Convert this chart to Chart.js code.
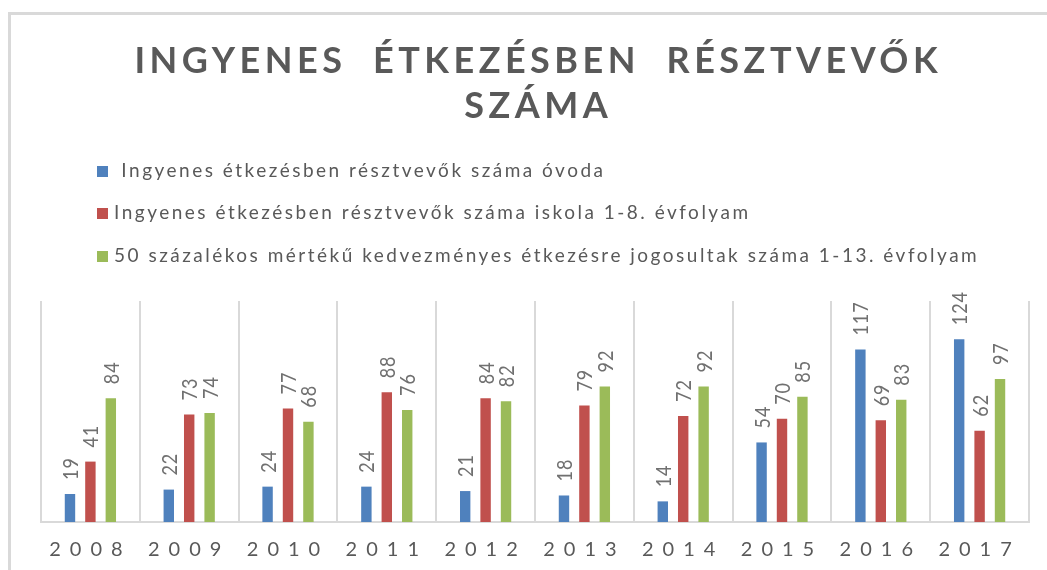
<!DOCTYPE html>
<html lang="hu">
<head>
<meta charset="utf-8">
<title>Ingyenes étkezésben résztvevők száma</title>
<script src="https://cdn.jsdelivr.net/npm/chart.js@4.4.1/dist/chart.umd.min.js"></script>
<style>
  html, body { margin: 0; padding: 0; background: #ffffff; }
  #wrap { width: 1047px; height: 570px; position: relative; }
</style>
</head>
<body>
<div id="wrap"><canvas id="chart"></canvas></div>
<script>
// Years on the category axis
const years = ['2008', '2009', '2010', '2011', '2012', '2013', '2014', '2015', '2016', '2017'];

// Series values (persons)
const ovoda = [19, 22, 24, 24, 21, 18, 14, 54, 117, 124];
const iskola = [41, 73, 77, 88, 84, 79, 72, 70, 69, 62];
const kedvezmenyes = [84, 74, 68, 76, 82, 92, 92, 85, 83, 97];

// Series names shown in the legend
const seriesNames = [
  ' Ingyenes étkezésben résztvevők száma óvoda',
  'Ingyenes étkezésben résztvevők száma iskola 1-8. évfolyam',
  '50 százalékos mértékű kedvezményes étkezésre jogosultak száma 1-13. évfolyam'
];

// Chart title, two lines
const titleLines = ['INGYENES  ÉTKEZÉSBEN  RÉSZTVEVŐK', 'SZÁMA'];

const COLORS = ['#4F81BD', '#C0504D', '#9BBB59'];
const TEXT = '#595959';
const GRID = '#d9d9d9';
const FONT = 'Lato, "Open Sans", sans-serif';

// White background and the thin frame around the chart
const framePlugin = {
  id: 'frame',
  beforeDraw(chart) {
    const ctx = chart.ctx;
    ctx.save();
    ctx.fillStyle = '#ffffff';
    ctx.fillRect(0, 0, chart.width, chart.height);
    ctx.strokeStyle = GRID;
    ctx.lineWidth = 3;
    ctx.strokeRect(9.5, 13.5, chart.width + 20, chart.height + 20);
    ctx.restore();
    // spaced-out year labels on the category axis
    ctx.letterSpacing = '9px';
  },
  beforeDatasetsDraw(chart) {
    chart.ctx.letterSpacing = '0px';
  }
};

// Rotated value labels above each bar
const valueLabels = {
  id: 'valueLabels',
  afterDatasetsDraw(chart) {
    const ctx = chart.ctx;
    ctx.save();
    ctx.font = '18px ' + FONT;
    ctx.fillStyle = '#707070';
    ctx.letterSpacing = '1px';
    ctx.textAlign = 'left';
    ctx.textBaseline = 'middle';
    chart.data.datasets.forEach((ds, di) => {
      const meta = chart.getDatasetMeta(di);
      meta.data.forEach((bar, i) => {
        ctx.save();
        ctx.translate(bar.x + 1, bar.y - 14);
        ctx.scale(1.2, 1);
        ctx.rotate(-Math.PI / 2);
        ctx.fillText(String(ds.data[i]), 0, 0);
        ctx.restore();
      });
    });
    ctx.restore();
  }
};

// Title and stacked legend above the plot
const headerPlugin = {
  id: 'header',
  afterDraw(chart) {
    const ctx = chart.ctx;
    const area = chart.chartArea;
    const cx = (area.left + area.right) / 2 + 1;
    ctx.save();

    // title
    ctx.fillStyle = TEXT;
    ctx.font = 'bold 36px ' + FONT;
    const spacing = 4.5;
    ctx.letterSpacing = spacing + 'px';
    ctx.textAlign = 'left';
    ctx.textBaseline = 'alphabetic';
    const baselines = [73, 118];
    titleLines.forEach((line, k) => {
      const w = ctx.measureText(line).width - spacing;
      ctx.fillText(line, cx - w / 2, baselines[k]);
    });

    // legend
    ctx.font = '19px ' + FONT;
    ctx.letterSpacing = '2.5px';
    ctx.textBaseline = 'middle';
    const rows = [171, 213, 256];
    chart.data.datasets.forEach((ds, di) => {
      ctx.fillStyle = ds.backgroundColor;
      ctx.fillRect(97, rows[di] - 5, 11, 11);
      ctx.fillStyle = TEXT;
      ctx.fillText(ds.label, 114, rows[di]);
    });
    ctx.restore();
  }
};

new Chart(document.getElementById('chart'), {
  type: 'bar',
  data: {
    labels: years,
    datasets: [
      { label: seriesNames[0], data: ovoda, backgroundColor: COLORS[0] },
      { label: seriesNames[1], data: iskola, backgroundColor: COLORS[1] },
      { label: seriesNames[2], data: kedvezmenyes, backgroundColor: COLORS[2] }
    ]
  },
  options: {
    responsive: true,
    maintainAspectRatio: false,
    animation: false,
    layout: { padding: { top: 301, left: 41, right: 18, bottom: 0 } },
    datasets: {
      bar: { categoryPercentage: 0.62, barPercentage: 0.51 }
    },
    plugins: {
      legend: { display: false },
      title: { display: false },
      tooltip: { enabled: false }
    },
    scales: {
      x: {
        grid: { display: true, offset: true, color: GRID, lineWidth: 2, drawTicks: false },
        border: { display: true, color: GRID, width: 2 },
        ticks: {
          color: TEXT,
          padding: 16,
          font: { family: FONT, size: 20 },
          maxRotation: 0
        },
        afterFit(scale) { scale.height = 48; }
      },
      y: {
        display: false,
        min: 0,
        max: 150
      }
    }
  },
  plugins: [framePlugin, valueLabels, headerPlugin]
});
</script>
</body>
</html>
